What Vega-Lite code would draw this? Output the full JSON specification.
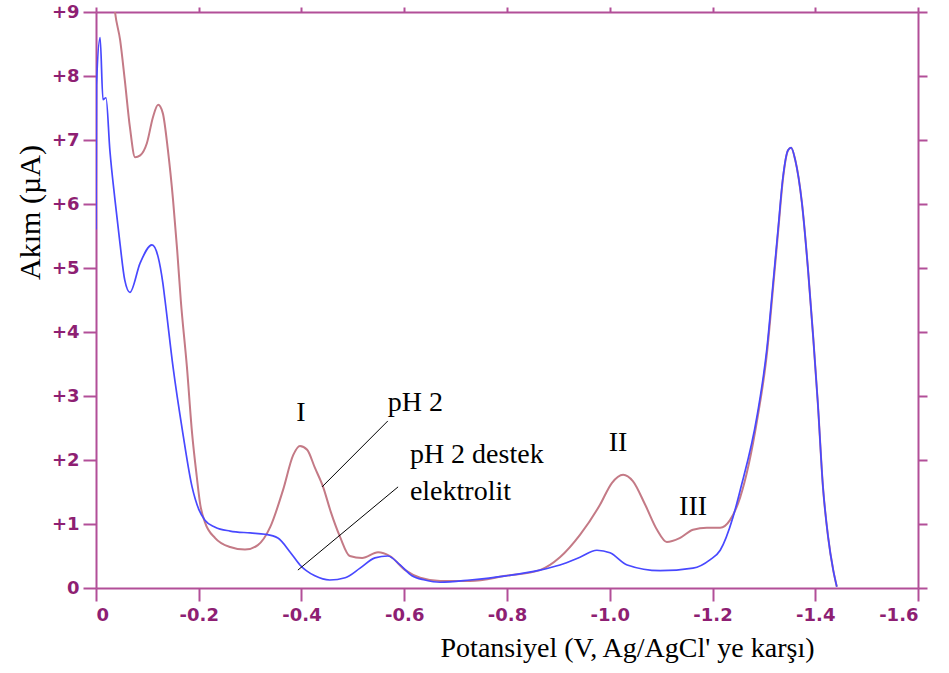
{
  "$schema": "https://vega.github.io/schema/vega-lite/v6.json",
  "width": 822,
  "height": 576,
  "autosize": {"type": "none"},
  "padding": {"left": 96, "top": 12, "right": 31, "bottom": 85},
  "background": "white",
  "config": {
    "view": {"stroke": null},
    "axis": {
      "grid": false,
      "domainColor": "#b24f98",
      "tickColor": "#b24f98",
      "domainWidth": 2,
      "tickWidth": 2,
      "labelColor": "#8e1f73",
      "labelFont": "DejaVu Sans",
      "labelFontWeight": "bold",
      "labelFontSize": 18,
      "titleFont": "Liberation Serif",
      "titleFontWeight": "normal",
      "titleFontSize": 28,
      "titleColor": "#000000"
    }
  },
  "datasets": {
    "ph2": [
      {"V": -0.015, "I": 11}, {"V": -0.03, "I": 9.6}, {"V": -0.037, "I": 9.0}, {"V": -0.047, "I": 8.56},
      {"V": -0.056, "I": 7.94}, {"V": -0.066, "I": 7.2}, {"V": -0.076, "I": 6.73}, {"V": -0.086, "I": 6.76},
      {"V": -0.099, "I": 6.95}, {"V": -0.111, "I": 7.36}, {"V": -0.121, "I": 7.55}, {"V": -0.13, "I": 7.42},
      {"V": -0.14, "I": 6.84}, {"V": -0.15, "I": 6.06}, {"V": -0.158, "I": 5.28}, {"V": -0.165, "I": 4.5},
      {"V": -0.177, "I": 3.45}, {"V": -0.187, "I": 2.42}, {"V": -0.196, "I": 1.75}, {"V": -0.203, "I": 1.3},
      {"V": -0.212, "I": 1.03}, {"V": -0.232, "I": 0.78}, {"V": -0.261, "I": 0.64}, {"V": -0.29, "I": 0.6},
      {"V": -0.315, "I": 0.67}, {"V": -0.339, "I": 0.95}, {"V": -0.364, "I": 1.53}, {"V": -0.384, "I": 2.08},
      {"V": -0.397, "I": 2.22}, {"V": -0.411, "I": 2.16}, {"V": -0.426, "I": 1.88}, {"V": -0.442, "I": 1.58},
      {"V": -0.457, "I": 1.19}, {"V": -0.475, "I": 0.8}, {"V": -0.494, "I": 0.5}, {"V": -0.518, "I": 0.47},
      {"V": -0.549, "I": 0.56}, {"V": -0.572, "I": 0.5}, {"V": -0.602, "I": 0.28}, {"V": -0.631, "I": 0.16},
      {"V": -0.67, "I": 0.11}, {"V": -0.728, "I": 0.11}, {"V": -0.798, "I": 0.19}, {"V": -0.864, "I": 0.28},
      {"V": -0.903, "I": 0.48}, {"V": -0.942, "I": 0.83}, {"V": -0.981, "I": 1.3}, {"V": -1.004, "I": 1.64},
      {"V": -1.026, "I": 1.77}, {"V": -1.045, "I": 1.67}, {"V": -1.069, "I": 1.3}, {"V": -1.092, "I": 0.91},
      {"V": -1.111, "I": 0.72}, {"V": -1.136, "I": 0.78}, {"V": -1.162, "I": 0.91}, {"V": -1.189, "I": 0.94},
      {"V": -1.215, "I": 0.94}, {"V": -1.234, "I": 1.06}, {"V": -1.254, "I": 1.42}, {"V": -1.287, "I": 2.63},
      {"V": -1.306, "I": 3.67}, {"V": -1.318, "I": 4.7}, {"V": -1.328, "I": 5.59}, {"V": -1.337, "I": 6.38},
      {"V": -1.347, "I": 6.84}, {"V": -1.353, "I": 6.88}, {"V": -1.361, "I": 6.69}, {"V": -1.374, "I": 6.02},
      {"V": -1.386, "I": 4.97}, {"V": -1.396, "I": 3.92}, {"V": -1.405, "I": 2.89}, {"V": -1.415, "I": 1.58},
      {"V": -1.425, "I": 0.8}, {"V": -1.435, "I": 0.28}, {"V": -1.442, "I": 0.02}
    ],
    "destek": [
      {"V": 0, "I": 5.6}, {"V": -0.001, "I": 7.86}, {"V": -0.008, "I": 8.6}, {"V": -0.0136, "I": 7.63},
      {"V": -0.0195, "I": 7.66}, {"V": -0.027, "I": 6.84}, {"V": -0.037, "I": 6.06}, {"V": -0.047, "I": 5.36},
      {"V": -0.056, "I": 4.81}, {"V": -0.066, "I": 4.62}, {"V": -0.086, "I": 5.08}, {"V": -0.109, "I": 5.36},
      {"V": -0.121, "I": 5.17}, {"V": -0.13, "I": 4.77}, {"V": -0.1343, "I": 4.5}, {"V": -0.15, "I": 3.45},
      {"V": -0.169, "I": 2.42}, {"V": -0.187, "I": 1.58}, {"V": -0.2005, "I": 1.22}, {"V": -0.212, "I": 1.06},
      {"V": -0.232, "I": 0.95}, {"V": -0.261, "I": 0.89}, {"V": -0.3, "I": 0.86}, {"V": -0.329, "I": 0.84},
      {"V": -0.354, "I": 0.78}, {"V": -0.378, "I": 0.56}, {"V": -0.397, "I": 0.36}, {"V": -0.426, "I": 0.19},
      {"V": -0.455, "I": 0.125}, {"V": -0.485, "I": 0.16}, {"V": -0.514, "I": 0.31}, {"V": -0.543, "I": 0.47},
      {"V": -0.568, "I": 0.5}, {"V": -0.592, "I": 0.36}, {"V": -0.615, "I": 0.19}, {"V": -0.64, "I": 0.125},
      {"V": -0.67, "I": 0.09}, {"V": -0.728, "I": 0.125}, {"V": -0.798, "I": 0.19}, {"V": -0.864, "I": 0.28},
      {"V": -0.903, "I": 0.36}, {"V": -0.942, "I": 0.48}, {"V": -0.975, "I": 0.59}, {"V": -1.0005, "I": 0.55},
      {"V": -1.034, "I": 0.36}, {"V": -1.098, "I": 0.27}, {"V": -1.162, "I": 0.31}, {"V": -1.195, "I": 0.44},
      {"V": -1.215, "I": 0.59}, {"V": -1.24, "I": 1.11}, {"V": -1.254, "I": 1.53}, {"V": -1.287, "I": 2.7},
      {"V": -1.306, "I": 3.75}, {"V": -1.318, "I": 4.77}, {"V": -1.328, "I": 5.64}, {"V": -1.337, "I": 6.41},
      {"V": -1.347, "I": 6.84}, {"V": -1.353, "I": 6.88}, {"V": -1.361, "I": 6.69}, {"V": -1.374, "I": 6.02},
      {"V": -1.386, "I": 4.97}, {"V": -1.396, "I": 3.92}, {"V": -1.405, "I": 2.89}, {"V": -1.415, "I": 1.58},
      {"V": -1.425, "I": 0.8}, {"V": -1.435, "I": 0.28}, {"V": -1.442, "I": 0.02}
    ],
    "notes": [
      {"V": -0.39, "I": 2.73, "t": "I"},
      {"V": -0.998, "I": 2.27, "t": "II"},
      {"V": -1.135, "I": 1.27, "t": "III"},
      {"V": -0.568, "I": 2.89, "t": "pH 2"},
      {"V": -0.611, "I": 2.08, "t": "pH 2 destek"},
      {"V": -0.611, "I": 1.5, "t": "elektrolit"}
    ],
    "pointers": [
      {"V": -0.568, "I": 2.61, "V2": -0.44, "I2": 1.58},
      {"V": -0.588, "I": 1.58, "V2": -0.393, "I2": 0.28}
    ]
  },
  "layer": [
    {
      "data": {"name": "ph2"},
      "mark": {"type": "line", "color": "#c47a86", "strokeWidth": 2, "interpolate": "monotone", "clip": true},
      "encoding": {
        "x": {
          "field": "V", "type": "quantitative",
          "scale": {"domain": [0, -1.6], "nice": false, "zero": false},
          "axis": {
            "orient": "bottom",
            "values": [0, -0.2, -0.4, -0.6, -0.8, -1.0, -1.2, -1.4, -1.6],
            "labelExpr": "datum.value == 0 ? '0' : '-' + format(abs(datum.value), '.1f')",
            "tickSize": 13,
            "labelPadding": 5,
            "title": "Potansiyel (V, Ag/AgCl' ye karşı)",
            "titleX": 531,
            "titleY": 60,
            "titleAlign": "center",
            "titleBaseline": "middle"
          }
        },
        "y": {
          "field": "I", "type": "quantitative",
          "scale": {"domain": [0, 9], "nice": false, "zero": false},
          "axis": {
            "orient": "left",
            "values": [0, 1, 2, 3, 4, 5, 6, 7, 8, 9],
            "labelExpr": "datum.value == 0 ? '0' : '+' + datum.value",
            "tickSize": 13,
            "labelPadding": 4,
            "title": "Akım (µA)",
            "titleFontSize": 30,
            "titleAngle": -90,
            "titleX": -66,
            "titleY": 200,
            "titleAlign": "center",
            "titleBaseline": "middle"
          }
        }
      }
    },
    {
      "data": {"name": "destek"},
      "mark": {"type": "line", "color": "#4848ff", "strokeWidth": 1.7, "interpolate": "monotone", "clip": true},
      "encoding": {
        "x": {
          "field": "V", "type": "quantitative",
          "axis": {
            "orient": "top",
            "values": [0, -0.2, -0.4, -0.6, -0.8, -1.0, -1.2, -1.4, -1.6],
            "labels": false, "tickSize": 5, "title": null
          }
        },
        "y": {
          "field": "I", "type": "quantitative",
          "axis": {
            "orient": "right",
            "values": [0, 1, 2, 3, 4, 5, 6, 7, 8, 9],
            "labels": false, "tickSize": 9, "title": null
          }
        }
      }
    },
    {
      "data": {"name": "pointers"},
      "mark": {"type": "rule", "color": "#000000", "strokeWidth": 1},
      "encoding": {
        "x": {"field": "V", "type": "quantitative", "axis": null},
        "y": {"field": "I", "type": "quantitative", "axis": null},
        "x2": {"field": "V2"},
        "y2": {"field": "I2"}
      }
    },
    {
      "data": {"name": "notes"},
      "mark": {"type": "text", "align": "left", "baseline": "middle", "font": "Liberation Serif", "fontSize": 28, "color": "#000000"},
      "encoding": {
        "x": {"field": "V", "type": "quantitative", "axis": null},
        "y": {"field": "I", "type": "quantitative", "axis": null},
        "text": {"field": "t"}
      }
    }
  ],
  "resolve": {"axis": {"x": "independent", "y": "independent"}}
}
